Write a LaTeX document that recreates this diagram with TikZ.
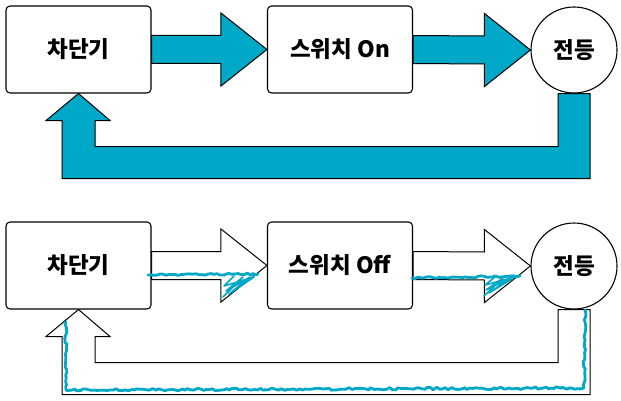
\documentclass[tikz,border=0pt]{standalone}
\usepackage{fontspec}
\newfontfamily\kr{Noto Sans CJK KR}[BoldFont={Noto Sans CJK KR Black}]
\usetikzlibrary{calc,backgrounds,decorations.pathmorphing}
\definecolor{tealone}{RGB}{0,168,200}
\newcommand\myblockarrow[3]{\path[#1] ($(#2.east)+(0,-14)$) -- ($(#3.west)+(-46,-14)$) -- ($(#3.west)+(-46,-36.5)$) -- (#3.west) -- ($(#3.west)+(-46,36.5)$) -- ($(#3.west)+(-46,14)$) -- ($(#2.east)+(0,14)$) -- cycle;}
\newcommand\myreturnarrow[3]{\path[#1] ($(#2.south)+(-16,0)$) -- ($(#2.south)+(16,0)$) -- ($(#2.south)+(16,85)$) -- ($(#3.south)+(-16.5,85)$) -- ($(#3.south)+(-16.5,27)$) -- ($(#3.south)+(-32.5,27)$) -- (#3.south) -- ($(#3.south)+(31.5,27)$) -- ($(#3.south)+(16.5,27)$) -- ($(#3.south)+(16.5,53)$) -- ($(#2.south)+(-16,53)$) -- cycle;}
\begin{document}
\begin{tikzpicture}[x=1pt,y=-1pt,
  lbl/.style={font=\kr\bfseries\fontsize{22.5}{26}\selectfont},
  box/.style={lbl, draw=black, line width=1.1pt, rounded corners=4pt, fill=white, minimum width=145pt, minimum height=87pt, inner sep=0pt},
  lamp/.style={lbl, draw=black, circle, line width=1.1pt, fill=white, minimum size=86pt, inner sep=0pt},
  blockon/.style={fill=tealone, draw=black, line width=1pt, line join=miter},
  blockoff/.style={fill=white, draw=black, line width=1pt, line join=miter},
  scrib/.style={draw=tealone, line width=2.8pt, line cap=round, line join=round, decorate, decoration={random steps, segment length=3pt, amplitude=0.9pt}},
  hatch/.style={draw=tealone, line width=1.6pt, line cap=round, line join=round}]
\pgfmathsetseed{7}
\useasboundingbox (0,0) rectangle (621,401);
% top row
\node[box] (a1) at (78.5,49.5) {차단기};
\node[box] (b1) at (340,49.5) {스위치 On};
\node[lamp] (c1) at (574,50) {전등};
% bottom row
\node[box] (a2) at (78.5,265.5) {차단기};
\node[box] (b2) at (340,265.5) {스위치 Off};
\node[lamp] (c2) at (574,266) {전등};
\begin{scope}[on background layer]
\myblockarrow{blockon}{a1}{b1}
\myblockarrow{blockon}{b1}{c1}
\myreturnarrow{blockon}{c1}{a1}
\myblockarrow{blockoff}{a2}{b2}
\myblockarrow{blockoff}{b2}{c2}
\myreturnarrow{blockoff}{c2}{a2}
\end{scope}
% hand-drawn current traces
\coordinate (s1) at (148,275);
\coordinate (e1) at (258,274);
\path[scrib] (s1) -- (e1);
\path[hatch] (223,297) -- (243,277) -- (226,291) -- (250,277) -- (229,294) -- (254,277) -- (224,286) -- (234,276);
\coordinate (s2) at (412,278);
\coordinate (e2) at (520,276);
\path[scrib] (s2) -- (e2);
\path[hatch] (484,296) -- (503,278) -- (486,290) -- (510,278) -- (489,293) -- (515,277) -- (485,285) -- (495,277);
\coordinate (r1) at (585,310);
\coordinate (r2) at (584,388);
\coordinate (r3) at (66,390);
\coordinate (r4) at (66,322);
\path[scrib, decoration={amplitude=1.2pt}] (r1) -- (r2) -- (r3) -- (r4);
\end{tikzpicture}
\end{document}
